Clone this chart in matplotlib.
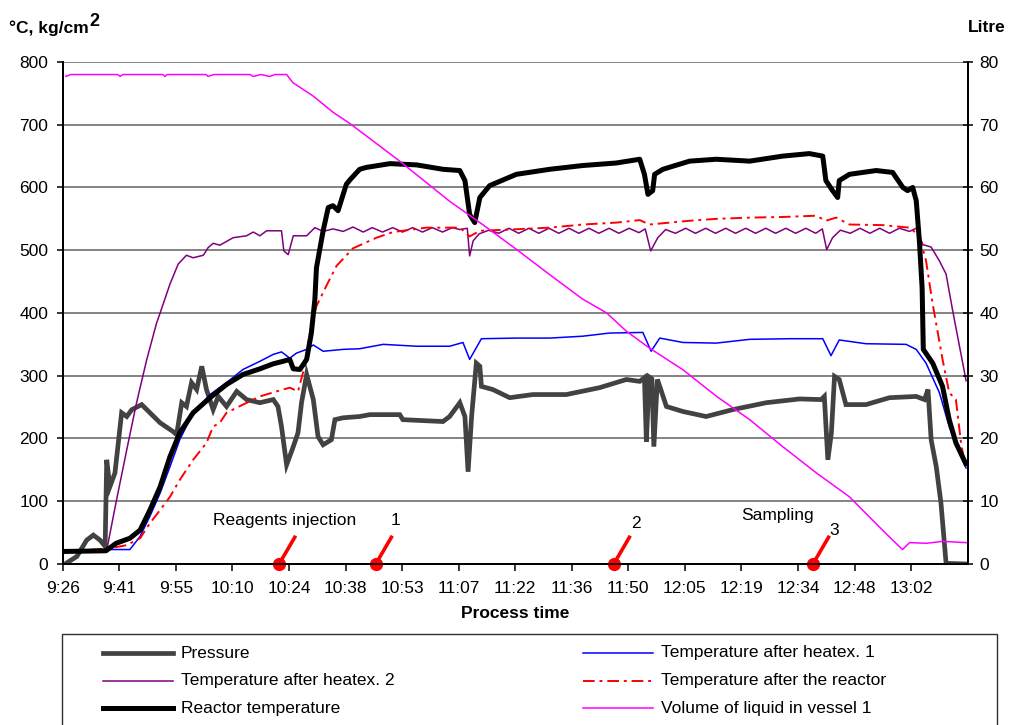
"""Process run chart: temperatures, pressure and vessel volume over process time."""

import matplotlib

matplotlib.use("Agg")
import matplotlib.pyplot as plt  # noqa: E402
from matplotlib.lines import Line2D  # noqa: E402
from matplotlib.patches import Rectangle  # noqa: E402

plt.rcParams["font.family"] = ["Liberation Sans", "DejaVu Sans"]
FS = 12.5

# x axis: minutes after 9:26, one label every 14.4 min
TICK_LABELS = ["9:26", "9:41", "9:55", "10:10", "10:24", "10:38", "10:53", "11:07",
               "11:22", "11:36", "11:50", "12:05", "12:19", "12:34", "12:48", "13:02"]
TICK_STEP = 14.4
X_END = 230.4

pressure_t = [0.6, 3.6, 6.1, 7.8, 9.5, 10.8, 11.2, 12.0, 13.3, 15.0,
              16.3, 17.6, 20.1, 22.2, 24.8, 28.1, 29.0, 30.3, 31.5, 32.8,
              34.1, 35.4, 36.6, 38.3, 39.6, 41.7, 44.3, 46.8, 50.2, 53.6,
              54.8, 55.7, 57.0, 58.7, 59.9, 60.8, 62.1, 63.8, 65.0, 66.3,
              68.4, 69.3, 71.4, 75.6, 78.2, 85.8, 86.6, 96.8, 98.5, 101.1,
              102.4, 103.2, 104.1, 105.3, 106.2, 106.6, 109.5, 113.8, 119.7, 128.2,
              136.7, 143.5, 146.9, 148.1, 148.6, 149.3, 150.0, 150.5, 151.4, 152.0,
              153.7, 157.9, 163.8, 170.6, 179.1, 187.6, 193.1, 193.9, 194.8, 195.7,
              196.5, 197.7, 199.4, 204.5, 210.5, 217.3, 219.4, 220.3, 221.1, 222.4,
              223.6, 224.9, 230.0]
pressure_v = [0, 12, 38, 46, 38, 28, 166, 123, 145, 241,
              235, 246, 254, 241, 225, 211, 206, 257, 251, 289,
              278, 315, 278, 246, 267, 251, 275, 262, 257, 262,
              251, 219, 158, 187, 209, 257, 302, 262, 203, 190,
              198, 230, 233, 235, 238, 238, 230, 227, 235, 257,
              235, 147, 235, 320, 315, 283, 278, 265, 270, 270,
              281, 294, 291, 297, 195, 298, 295, 187, 294, 283,
              251, 243, 235, 246, 257, 263, 262, 267, 166, 209,
              299, 294, 254, 254, 265, 267, 262, 278, 198, 155,
              97, 1, 0]

heatex1_t = [0.9, 12.0, 17.1, 19.7, 22.2, 24.8, 27.3, 29.8, 33.2, 37.5,
             41.7, 45.9, 50.2, 53.6, 55.7, 57.8, 59.5, 62.1, 63.8, 66.3,
             71.4, 75.6, 81.6, 90.1, 98.5, 101.9, 103.6, 106.6, 115.5, 124.0,
             132.4, 139.2, 147.7, 149.8, 152.0, 157.9, 166.4, 174.9, 185.0, 193.5,
             195.6, 197.7, 204.5, 214.7, 217.3, 219.8, 223.2, 225.7, 228.3, 230.0]
heatex1_v = [20, 23, 23, 44, 76, 113, 155, 198, 241, 270,
             289, 310, 323, 334, 338, 328, 336, 342, 349, 339,
             342, 343, 350, 347, 347, 353, 326, 359, 360, 360,
             363, 368, 369, 339, 360, 353, 352, 358, 359, 359,
             332, 357, 351, 350, 342, 320, 273, 219, 177, 153]

heatex2_t = [0.9, 11.2, 13.7, 16.3, 18.8, 21.4, 23.9, 24.8, 27.3, 29.4,
             31.5, 33.2, 35.8, 37.0, 38.3, 40.0, 43.4, 46.8, 48.5, 50.2,
             51.9, 55.7, 56.3, 57.4, 58.7, 62.1, 64.2, 66.3, 68.8, 71.4,
             73.9, 76.5, 78.8, 81.4, 84.0, 86.5, 89.1, 91.6, 94.1, 96.7,
             99.2, 101.1, 103.0, 103.6, 104.5, 106.0, 108.5, 111.0, 113.6, 116.1,
             118.7, 121.2, 123.8, 126.3, 128.9, 131.4, 134.0, 136.5, 139.1, 141.6,
             144.2, 146.7, 148.3, 149.7, 151.5, 153.5, 156.0, 158.6, 161.1, 163.7,
             166.2, 168.8, 171.3, 173.9, 176.4, 179.0, 181.5, 184.1, 186.6, 189.2,
             191.7, 193.4, 194.5, 196.0, 198.0, 200.5, 203.0, 205.5, 208.0, 210.5,
             213.0, 215.6, 217.3, 219.0, 221.1, 223.2, 224.9, 226.6, 230.0]
heatex2_v = [20, 22, 102, 182, 257, 326, 384, 400, 446, 478,
             492, 488, 492, 504, 511, 508, 520, 523, 529, 523,
             531, 531, 499, 493, 523, 523, 536, 530, 534, 530,
             537, 529, 536, 529, 536, 529, 536, 529, 536, 529,
             536, 533, 535, 491, 515, 526, 532, 527, 535, 527,
             535, 527, 535, 527, 535, 527, 535, 527, 535, 527,
             535, 528, 534, 499, 520, 533, 527, 535, 527, 535,
             527, 535, 527, 535, 527, 535, 527, 535, 527, 535,
             527, 534, 501, 520, 532, 527, 535, 527, 535, 527,
             535, 530, 535, 509, 505, 483, 462, 403, 292]

after_reactor_t = [0.9, 12.0, 16.3, 19.7, 22.2, 24.8, 27.3, 29.8, 33.2, 36.6,
                   38.3, 40.0, 41.7, 45.9, 50.2, 54.4, 57.8, 59.9, 61.6, 62.9,
                   64.6, 67.1, 69.7, 73.9, 79.9, 84.1, 92.6, 101.1, 103.6, 106.2,
                   113.8, 124.0, 132.4, 140.9, 146.9, 149.4, 159.6, 166.4, 174.9, 183.3,
                   191.8, 194.3, 196.9, 200.3, 208.8, 215.6, 218.1, 219.8, 221.5, 224.0,
                   225.7, 227.4, 228.7, 229.5, 230.0]
after_reactor_v = [20, 25, 30, 41, 65, 86, 107, 134, 166, 193,
                   219, 225, 241, 254, 267, 275, 281, 275, 315, 368,
                   411, 443, 475, 503, 520, 529, 536, 536, 522, 531,
                   533, 536, 541, 544, 548, 541, 547, 550, 552, 553,
                   555, 547, 552, 541, 540, 536, 523, 483, 414, 326,
                   273, 262, 193, 166, 155]

reactor_t = [0.9, 11.0, 13.6, 17.1, 19.7, 22.2, 24.8, 27.3, 29.8, 33.2,
             37.5, 41.7, 45.9, 50.2, 53.6, 56.1, 57.8, 58.7, 60.4, 62.1,
             63.3, 64.2, 64.6, 66.3, 67.6, 68.8, 70.1, 72.2, 73.1, 75.6,
             77.3, 83.3, 90.1, 96.8, 101.1, 102.4, 103.6, 104.9, 106.2, 108.7,
             115.5, 124.0, 132.4, 140.9, 146.9, 148.1, 149.0, 150.2, 150.7, 152.8,
             159.6, 166.4, 174.9, 183.3, 190.1, 193.5, 194.3, 196.0, 197.3, 197.7,
             200.3, 207.1, 211.3, 213.9, 215.1, 216.4, 217.3, 218.1, 218.8, 219.1,
             221.5, 224.0, 225.7, 227.4, 229.9]
reactor_v = [20, 21, 33, 41, 54, 86, 123, 171, 209, 241,
             265, 286, 302, 311, 319, 323, 326, 311, 310, 326,
             368, 422, 472, 531, 568, 571, 563, 605, 612, 629,
             632, 638, 636, 629, 627, 611, 557, 544, 584, 603,
             621, 629, 635, 639, 645, 621, 589, 595, 621, 629,
             642, 645, 642, 650, 654, 650, 611, 595, 584, 611,
             621, 627, 624, 600, 595, 600, 579, 515, 440, 342,
             320, 283, 230, 193, 160]

volume_t = [0.8, 2.0, 14.0, 14.6, 15.3, 25.5, 26.0, 26.6, 36.5, 37.0,
            38.5, 47.7, 48.5, 50.5, 52.7, 54.0, 57.0, 58.6, 63.7, 68.8,
            73.1, 85.8, 98.5, 106.9, 115.6, 124.0, 132.4, 138.5, 143.5, 149.4,
            157.8, 166.5, 174.9, 183.3, 191.9, 200.3, 208.7, 213.8, 215.6, 219.9,
            224.0, 230.1]
volume_l = [77.7, 78.0, 78.0, 77.7, 78.0, 78.0, 77.7, 78.0, 78.0, 77.7,
            78.0, 78.0, 77.7, 78.0, 77.7, 78.0, 78.0, 76.7, 74.6, 72.0,
            70.2, 64.2, 57.8, 54.1, 50.1, 46.1, 42.2, 40.0, 37.1, 34.4,
            31.0, 26.7, 23.0, 18.7, 14.5, 10.7, 5.4, 2.3, 3.4, 3.3,
            3.6, 3.4]

# process events marked on the time axis
event_t = [55.1, 79.7, 140.3, 191.0]
event_labels = ["Reagents injection", "1", "2", "Sampling", "3"]
event_label_t = [56.6, 84.6, 146.0, 182.0, 196.5]
event_label_v = [70, 70, 65, 78, 54]

STYLES = {
    "pressure": dict(color="#424242", linewidth=3.4, solid_joinstyle="miter"),
    "heatex1": dict(color="#0000ff", linewidth=1.1),
    "heatex2": dict(color="#800080", linewidth=1.1),
    "after": dict(color="#ff0000", linewidth=1.4, linestyle=(0, (6, 2.5, 1.5, 2.5))),
    "reactor": dict(color="black", linewidth=3.6),
    "volume": dict(color="#ff00ff", linewidth=1.1),
}

fig = plt.figure(figsize=(10.1, 7.25), dpi=100)
ax = fig.add_axes([0.0621, 0.2221, 0.8960, 0.6924])
ax2 = ax.twinx()

ax.plot(pressure_t, pressure_v, **STYLES["pressure"], zorder=3)
ax.plot(heatex1_t, heatex1_v, **STYLES["heatex1"], zorder=4)
ax.plot(heatex2_t, heatex2_v, **STYLES["heatex2"], zorder=5)
ax.plot(after_reactor_t, after_reactor_v, **STYLES["after"], zorder=6)
ax.plot(reactor_t, reactor_v, **STYLES["reactor"], zorder=7)
ax2.plot(volume_t, volume_l, **STYLES["volume"])

for t in event_t:
    ax.plot([t, t + 4.2], [0, 45], color="#ff0000", linewidth=2.6,
            clip_on=False, zorder=9, solid_capstyle="butt")
    ax.plot([t], [0], marker="o", markersize=8.5, color="#ff0000",
            clip_on=False, zorder=10)
for label, t, v in zip(event_labels, event_label_t, event_label_v):
    ax.text(t, v, label, ha="center", va="center", fontsize=FS, zorder=11)

ax.set_xlim(0, X_END)
ax.set_ylim(0, 800)
ax2.set_ylim(0, 80)
ax.set_xticks([i * TICK_STEP for i in range(len(TICK_LABELS))], TICK_LABELS)
ax.set_yticks(range(0, 801, 100))
ax2.set_yticks(range(0, 81, 10))
ax.grid(axis="y", color="#6e6e6e", linewidth=1.2)
ax.set_axisbelow(True)

ax.tick_params(axis="x", direction="out", length=5, width=1.1, pad=7, labelsize=FS)
ax.tick_params(axis="y", direction="out", length=4, width=1.1, pad=6.5, labelsize=FS)
ax2.tick_params(axis="y", direction="inout", length=7, width=1.1, pad=5, labelsize=FS)
for a in (ax, ax2):
    a.spines["top"].set_visible(False)
    for side in ("left", "right", "bottom"):
        a.spines[side].set_linewidth(1.3)

fig.text(515 / 1010, 1 - 614 / 725, "Process time", ha="center", va="center",
         fontsize=FS, fontweight="bold")
fig.text(9 / 1010, 1 - 28 / 725, "°C, kg/cm", ha="left", va="center",
         fontsize=FS, fontweight="bold")
fig.text(89 / 1010, 1 - 22 / 725, "2", ha="left", va="center",
         fontsize=13, fontweight="bold")
fig.text(987 / 1010, 1 - 28 / 725, "Litre", ha="center", va="center",
         fontsize=FS, fontweight="bold")

# legend box runs off the bottom of the image, so it is drawn by hand
fig.add_artist(Rectangle((62 / 1010, -0.02), (997 - 62) / 1010, 0.02 + 1 - 634 / 725,
                         transform=fig.transFigure, facecolor="white",
                         edgecolor="#303030", linewidth=1.0))
legend_items = [
    (103, 653, "pressure", "Pressure"),
    (103, 681, "heatex2", "Temperature after heatex. 2"),
    (103, 708, "reactor", "Reactor temperature"),
    (583, 653, "heatex1", "Temperature after heatex. 1"),
    (583, 681, "after", "Temperature after the reactor"),
    (583, 708, "volume", "Volume of liquid in vessel 1"),
]
for x0, y0, key, label in legend_items:
    yf = 1 - y0 / 725
    fig.add_artist(Line2D([x0 / 1010, (x0 + 70) / 1010], [yf, yf],
                          transform=fig.transFigure, **STYLES[key]))
    fig.text((x0 + 78) / 1010, yf, label, ha="left", va="center", fontsize=FS)

fig.savefig("out.png", dpi=100)
